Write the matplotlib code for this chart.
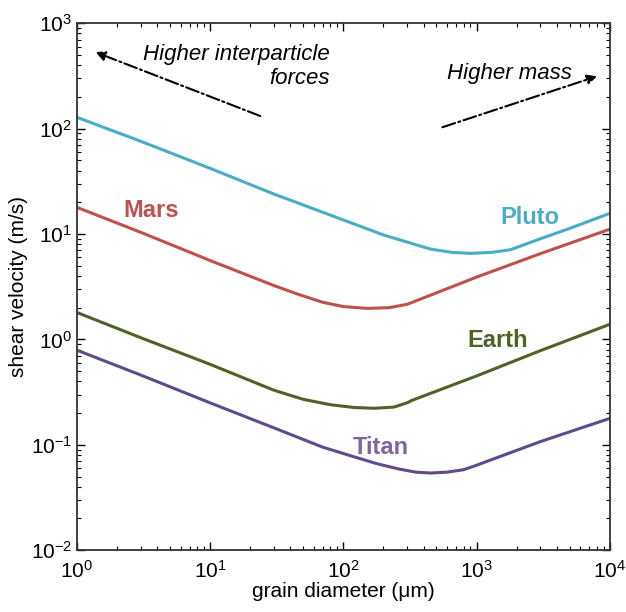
import matplotlib.pyplot as plt
import numpy as np

plt.rcParams['font.family'] = ['Liberation Sans', 'DejaVu Sans']
plt.rcParams['mathtext.fontset'] = 'custom'
plt.rcParams['mathtext.rm'] = 'Liberation Sans'
plt.rcParams['axes.unicode_minus'] = False

# grain diameter (um) and shear velocity (m/s)
pluto_d = [1, 3, 10, 30, 100, 200, 300, 450, 650, 900, 1300, 1800, 3000, 5000, 10000]
pluto_u = [128, 76, 42, 24, 13.6, 9.8, 8.4, 7.2, 6.7, 6.55, 6.7, 7.1, 9.0, 11.3, 15.7]

mars_d = [1, 3, 10, 30, 45, 70, 100, 150, 220, 300, 360, 1000, 3000, 10000]
mars_u = [17.9, 10.4, 5.6, 3.25, 2.7, 2.25, 2.05, 1.97, 2.0, 2.15, 2.35, 3.9, 6.5, 11.1]

earth_d = [1, 3, 10, 30, 50, 80, 120, 170, 240, 300, 330, 1000, 3000, 10000]
earth_u = [1.8, 1.04, 0.58, 0.33, 0.27, 0.24, 0.226, 0.222, 0.228, 0.25, 0.265, 0.45, 0.78, 1.39]

titan_d = [1, 3, 10, 30, 70, 120, 180, 260, 350, 450, 600, 800, 1000, 3000, 10000]
titan_u = [0.79, 0.46, 0.25, 0.145, 0.095, 0.077, 0.066, 0.059, 0.055, 0.054, 0.055, 0.058, 0.064, 0.107, 0.178]

line_colors = ['#4bacc6', '#c0504d', '#4f6228', '#5f4b8b']
label_colors = ['#4bacc6', '#c0504d', '#4f6228', '#8064a2']
names = ['Pluto', 'Mars', 'Earth', 'Titan']
label_pos = [(0.85, 0.632), (0.139, 0.645), (0.79, 0.398), (0.57, 0.195)]

fig = plt.figure(figsize=(6.26, 6.12), dpi=100)
ax = fig.add_axes([0.123, 0.101, 0.851, 0.861])

series = [(pluto_d, pluto_u), (mars_d, mars_u), (earth_d, earth_u), (titan_d, titan_u)]
for (d, u), c in zip(series, line_colors):
    ax.plot(d, u, color=c, lw=2.2, solid_capstyle='round', solid_joinstyle='round')

for name, c, (px, py) in zip(names, label_colors, label_pos):
    ax.text(px, py, name, transform=ax.transAxes, color=c, fontsize=17,
            fontweight='bold', ha='center', va='center')

ax.set_xscale('log')
ax.set_yscale('log')
ax.set_xlim(1, 1e4)
ax.set_ylim(1e-2, 1e3)

ax.tick_params(which='both', direction='in', top=True, right=True, labelsize=15)
ax.tick_params(which='major', length=6, width=1)
ax.tick_params(which='minor', length=3, width=0.8)
ax.tick_params(axis='x', pad=7)
for s in ax.spines.values():
    s.set_linewidth(1.3)
    s.set_color('#333333')

ax.set_xlabel('grain diameter (μm)', fontsize=15, labelpad=0)
ax.set_ylabel('shear velocity (m/s)', fontsize=15, labelpad=2)

# annotations
ax.annotate('', xy=(0.03, 0.947), xytext=(0.349, 0.822), xycoords='axes fraction',
            arrowprops=dict(arrowstyle='-|>', color='black', lw=1.5,
                            linestyle='-.', mutation_scale=14))
ax.annotate('', xy=(0.981, 0.901), xytext=(0.681, 0.801), xycoords='axes fraction',
            arrowprops=dict(arrowstyle='-|>', color='black', lw=1.5,
                            linestyle='-.', mutation_scale=14))
ax.text(0.475, 0.918, 'Higher interparticle\nforces', transform=ax.transAxes,
        fontsize=16, style='italic', ha='right', va='center', linespacing=1.2)
ax.text(0.812, 0.905, 'Higher mass', transform=ax.transAxes,
        fontsize=16, style='italic', ha='center', va='center')

fig.savefig('out.png', dpi=100)
